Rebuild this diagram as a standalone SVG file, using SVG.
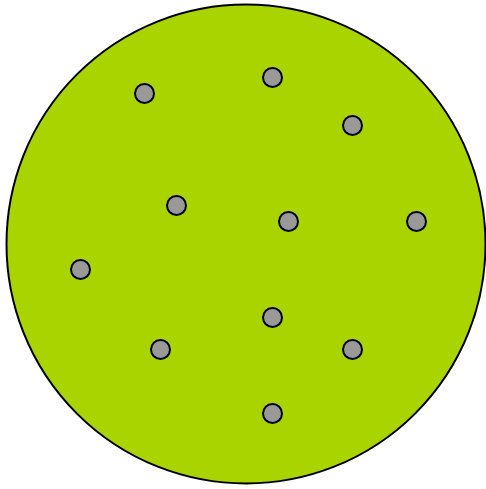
<svg xmlns="http://www.w3.org/2000/svg" width="486" height="489" viewBox="0 0 486 489">
<style>
.big{fill:#aad400;stroke:#000;stroke-width:2}
.dot{fill:#999999;stroke:#000;stroke-width:2}
</style>
<rect width="486" height="489" fill="#fff"/>
<g id="field"><circle class="big" cx="246" cy="244" r="239.5"/></g>
<g id="dots">
<circle id="d1" class="dot" cx="144.5" cy="93.5" r="9.5"/>
<circle id="d2" class="dot" cx="272.5" cy="77.5" r="9.5"/>
<circle id="d3" class="dot" cx="352.5" cy="125.5" r="9.5"/>
<circle id="d4" class="dot" cx="176.5" cy="205.5" r="9.5"/>
<circle id="d5" class="dot" cx="288.5" cy="221.5" r="9.5"/>
<circle id="d6" class="dot" cx="416.5" cy="221.5" r="9.5"/>
<circle id="d7" class="dot" cx="80.5" cy="269.5" r="9.5"/>
<circle id="d8" class="dot" cx="272.5" cy="317.5" r="9.5"/>
<circle id="d9" class="dot" cx="160.5" cy="349.5" r="9.5"/>
<circle id="d10" class="dot" cx="352.5" cy="349.5" r="9.5"/>
<circle id="d11" class="dot" cx="272.5" cy="413.5" r="9.5"/>
</g>
</svg>
